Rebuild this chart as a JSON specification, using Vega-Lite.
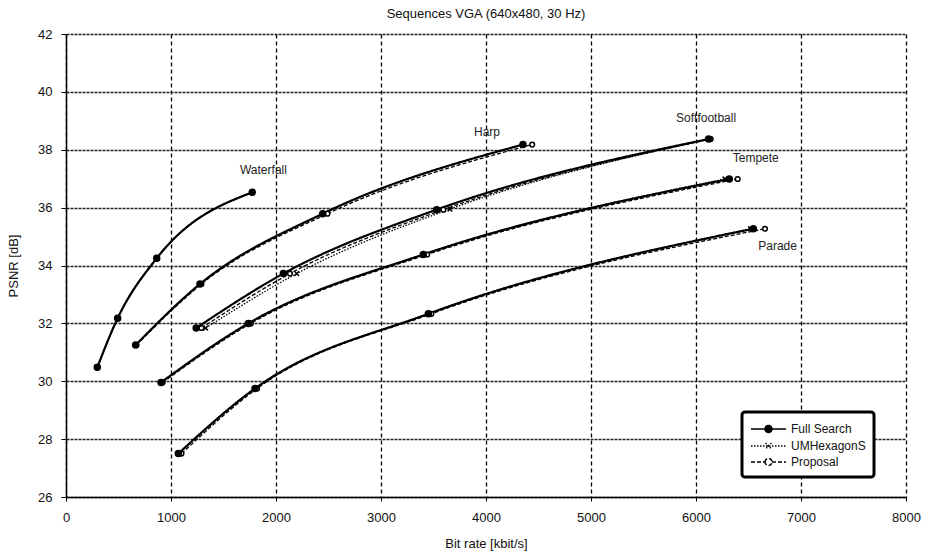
{
  "$schema": "https://vega.github.io/schema/vega-lite/v6.json",
  "width": 840,
  "height": 463,
  "autosize": {"type": "none"},
  "padding": {"left": 66, "top": 34, "right": 29, "bottom": 62},
  "background": "white",
  "title": {"text": "Sequences VGA (640x480, 30 Hz)", "fontSize": 13, "font": "Liberation Sans", "fontWeight": "normal", "color": "#111", "offset": 7},
  "config": {
    "view": {"stroke": null},
    "font": "Liberation Sans",
    "axis": {"labelFont": "Liberation Sans", "titleFont": "Liberation Sans", "labelColor": "#111", "titleColor": "#111", "titleFontWeight": "normal", "domainColor": "black", "tickColor": "black"}
  },
  "datasets": {
    "pts": [
      {"seq": "Waterfall", "method": "UMHexagonS", "rate": 298, "psnr": 30.48},
      {"seq": "Waterfall", "method": "UMHexagonS", "rate": 492, "psnr": 32.18},
      {"seq": "Waterfall", "method": "UMHexagonS", "rate": 864, "psnr": 34.25},
      {"seq": "Waterfall", "method": "UMHexagonS", "rate": 1774, "psnr": 36.53},
      {"seq": "Waterfall", "method": "Proposal", "rate": 298, "psnr": 30.48},
      {"seq": "Waterfall", "method": "Proposal", "rate": 492, "psnr": 32.18},
      {"seq": "Waterfall", "method": "Proposal", "rate": 864, "psnr": 34.25},
      {"seq": "Waterfall", "method": "Proposal", "rate": 1774, "psnr": 36.53},
      {"seq": "Harp", "method": "UMHexagonS", "rate": 663, "psnr": 31.25},
      {"seq": "Harp", "method": "UMHexagonS", "rate": 1276, "psnr": 33.36},
      {"seq": "Harp", "method": "UMHexagonS", "rate": 2445, "psnr": 35.79},
      {"seq": "Harp", "method": "UMHexagonS", "rate": 4352, "psnr": 38.18},
      {"seq": "Harp", "method": "Proposal", "rate": 670, "psnr": 31.25},
      {"seq": "Harp", "method": "Proposal", "rate": 1290, "psnr": 33.36},
      {"seq": "Harp", "method": "Proposal", "rate": 2490, "psnr": 35.79},
      {"seq": "Harp", "method": "Proposal", "rate": 4440, "psnr": 38.18},
      {"seq": "Softfootball", "method": "UMHexagonS", "rate": 1330, "psnr": 31.84},
      {"seq": "Softfootball", "method": "UMHexagonS", "rate": 2197, "psnr": 33.72},
      {"seq": "Softfootball", "method": "UMHexagonS", "rate": 3657, "psnr": 35.95},
      {"seq": "Softfootball", "method": "UMHexagonS", "rate": 6130, "psnr": 38.37},
      {"seq": "Softfootball", "method": "Proposal", "rate": 1290, "psnr": 31.84},
      {"seq": "Softfootball", "method": "Proposal", "rate": 2133, "psnr": 33.72},
      {"seq": "Softfootball", "method": "Proposal", "rate": 3594, "psnr": 35.93},
      {"seq": "Softfootball", "method": "Proposal", "rate": 6140, "psnr": 38.37},
      {"seq": "Tempete", "method": "UMHexagonS", "rate": 905, "psnr": 29.96},
      {"seq": "Tempete", "method": "UMHexagonS", "rate": 1737, "psnr": 32.0},
      {"seq": "Tempete", "method": "UMHexagonS", "rate": 3403, "psnr": 34.38},
      {"seq": "Tempete", "method": "UMHexagonS", "rate": 6276, "psnr": 36.99},
      {"seq": "Tempete", "method": "Proposal", "rate": 920, "psnr": 29.96},
      {"seq": "Tempete", "method": "Proposal", "rate": 1760, "psnr": 32.0},
      {"seq": "Tempete", "method": "Proposal", "rate": 3440, "psnr": 34.38},
      {"seq": "Tempete", "method": "Proposal", "rate": 6397, "psnr": 36.99},
      {"seq": "Parade", "method": "UMHexagonS", "rate": 1070, "psnr": 27.5},
      {"seq": "Parade", "method": "UMHexagonS", "rate": 1800, "psnr": 29.75},
      {"seq": "Parade", "method": "UMHexagonS", "rate": 3451, "psnr": 32.33},
      {"seq": "Parade", "method": "UMHexagonS", "rate": 6520, "psnr": 35.27},
      {"seq": "Parade", "method": "Proposal", "rate": 1100, "psnr": 27.5},
      {"seq": "Parade", "method": "Proposal", "rate": 1820, "psnr": 29.75},
      {"seq": "Parade", "method": "Proposal", "rate": 3480, "psnr": 32.33},
      {"seq": "Parade", "method": "Proposal", "rate": 6657, "psnr": 35.27},

      {"seq": "Waterfall", "method": "Full Search", "rate": 298, "psnr": 30.48},
      {"seq": "Waterfall", "method": "Full Search", "rate": 492, "psnr": 32.18},
      {"seq": "Waterfall", "method": "Full Search", "rate": 864, "psnr": 34.25},
      {"seq": "Waterfall", "method": "Full Search", "rate": 1774, "psnr": 36.53},
      {"seq": "Harp", "method": "Full Search", "rate": 663, "psnr": 31.25},
      {"seq": "Harp", "method": "Full Search", "rate": 1276, "psnr": 33.36},
      {"seq": "Harp", "method": "Full Search", "rate": 2445, "psnr": 35.79},
      {"seq": "Harp", "method": "Full Search", "rate": 4352, "psnr": 38.18},
      {"seq": "Softfootball", "method": "Full Search", "rate": 1240, "psnr": 31.84},
      {"seq": "Softfootball", "method": "Full Search", "rate": 2070, "psnr": 33.72},
      {"seq": "Softfootball", "method": "Full Search", "rate": 3530, "psnr": 35.93},
      {"seq": "Softfootball", "method": "Full Search", "rate": 6120, "psnr": 38.37},
      {"seq": "Tempete", "method": "Full Search", "rate": 905, "psnr": 29.96},
      {"seq": "Tempete", "method": "Full Search", "rate": 1737, "psnr": 32.0},
      {"seq": "Tempete", "method": "Full Search", "rate": 3403, "psnr": 34.38},
      {"seq": "Tempete", "method": "Full Search", "rate": 6317, "psnr": 36.99},
      {"seq": "Parade", "method": "Full Search", "rate": 1070, "psnr": 27.5},
      {"seq": "Parade", "method": "Full Search", "rate": 1800, "psnr": 29.75},
      {"seq": "Parade", "method": "Full Search", "rate": 3451, "psnr": 32.33},
      {"seq": "Parade", "method": "Full Search", "rate": 6546, "psnr": 35.27}
    ],
    "labels": [
      {"label": "Waterfall", "rate": 1657, "psnr": 37.3},
      {"label": "Harp", "rate": 3886, "psnr": 38.63},
      {"label": "Softfootball", "rate": 5810, "psnr": 39.1},
      {"label": "Tempete", "rate": 6350, "psnr": 37.71},
      {"label": "Parade", "rate": 6593, "psnr": 34.67}
    ]
  },
  "encoding": {
    "x": {"field": "rate", "type": "quantitative", "scale": {"domain": [0, 8000], "nice": false, "zero": false},
      "axis": {"title": "Bit rate [kbit/s]", "values": [0, 1000, 2000, 3000, 4000, 5000, 6000, 7000, 8000], "format": "d", "labelFlush": false, "grid": true, "gridColor": "black", "gridDash": [4, 3], "gridWidth": 1.3, "domainWidth": 1.5, "tickSize": 4, "labelFontSize": 13, "titleFontSize": 13, "labelPadding": 10, "titlePadding": 13}},
    "y": {"field": "psnr", "type": "quantitative", "scale": {"domain": [26, 42], "nice": false, "zero": false},
      "axis": {"title": "PSNR [dB]", "values": [26, 28, 30, 32, 34, 36, 38, 40, 42], "grid": true, "gridColor": "#222", "gridWidth": 1.6, "gridDash": [3, 1], "domainWidth": 1.5, "tickSize": 5, "labelFontSize": 13, "titleFontSize": 13, "labelPadding": 9, "titlePadding": 17}}
  },
  "layer": [
    {
      "data": {"name": "pts"},
      "mark": {"type": "line", "interpolate": "monotone", "color": "black"},
      "encoding": {
        "detail": {"field": "seq"},
        "strokeDash": {"field": "method", "type": "nominal",
          "scale": {"domain": ["Full Search", "UMHexagonS", "Proposal"], "range": [[1, 0], [1.5, 1.5], [4, 2]]},
          "legend": {
            "title": null, "orient": "none", "legendX": 676, "legendY": 378,
            "strokeColor": "black", "cornerRadius": 3, "fillColor": "white",
            "padding": 8, "rowPadding": 1, "labelFontSize": 12, "labelFont": "Liberation Sans", "labelColor": "#111", "labelOffset": 23,
            "symbolSize": 256, "symbolStrokeColor": "black", "symbolStrokeWidth": 1.5,
            "encode": {
              "legend": {"update": {"strokeWidth": {"value": 3}}},
              "symbols": {"update": {
                "shape": {"signal": "datum.value === 'Full Search' ? 'M-1,0L3.375,0M0.75,0A0.4375,0.4375 0 1 1 1.625,0A0.4375,0.4375 0 1 1 0.75,0Z' : datum.value === 'UMHexagonS' ? 'M-1,0L3.375,0M0.8125,-0.375L1.5625,0.375M1.5625,-0.375L0.8125,0.375' : 'M-1,0L0.75,0M1.625,0L3.375,0M0.75,0A0.4375,0.4375 0 1 1 1.625,0A0.4375,0.4375 0 1 1 0.75,0Z'"},
                "size": {"value": 256},
                "fill": {"signal": "datum.value === 'Full Search' ? 'black' : datum.value === 'Proposal' ? 'white' : 'transparent'"},
                "stroke": {"value": "black"}
              }}
            }
          }},
        "strokeWidth": {"condition": {"test": "datum.method === 'Full Search'", "value": 2.2}, "value": 1.3}
      }
    },
    {
      "data": {"name": "pts"},
      "mark": {"type": "point", "filled": false, "stroke": "black", "strokeWidth": 1.5, "opacity": 1},
      "encoding": {
        "shape": {"condition": {"test": "datum.method === 'UMHexagonS'", "value": "M-1,-1L1,1M1,-1L-1,1"}, "value": "circle"},
        "fill": {"condition": [{"test": "datum.method === 'Full Search'", "value": "black"}, {"test": "datum.method === 'Proposal'", "value": "white"}], "value": "transparent"},
        "size": {"condition": {"test": "datum.method === 'Full Search'", "value": 36}, "value": 22}
      }
    },
    {
      "data": {"name": "labels"},
      "mark": {"type": "text", "align": "left", "baseline": "middle", "fontSize": 12, "font": "Liberation Sans", "color": "#222"},
      "encoding": {"text": {"field": "label"}}
    }
  ]
}
